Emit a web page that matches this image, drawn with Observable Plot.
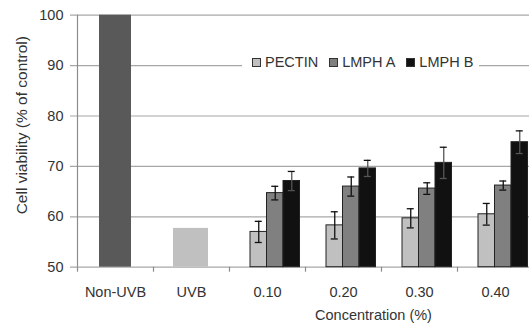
<!DOCTYPE html>
<html>
<head>
<meta charset="utf-8">
<script src="https://cdn.jsdelivr.net/npm/d3@7"></script>
<script src="https://cdn.jsdelivr.net/npm/@observablehq/plot@0.6"></script>
<style>
  body { margin: 0; background: #fff; }
  #wrap { position: relative; width: 529px; height: 328px; font-family: "Liberation Sans", Arial, sans-serif; }
  #legend { position: absolute; left: 242px; top: 54px; width: 237px; height: 16px; background: #fff;
            display: flex; align-items: center; padding-left: 10px; box-sizing: border-box;
            font-size: 14.5px; color: #333; white-space: nowrap; }
  #legend .item { display: flex; align-items: center; margin-right: 11px; }
  #legend .sw { width: 7px; height: 7px; border: 1px solid #333; margin-right: 4px; }
</style>
</head>
<body>
<div id="wrap"><div id="legend"></div></div>
<script>
// ---- data ----
const categories = ["Non-UVB", "UVB", "0.10", "0.20", "0.30", "0.40"];
const controlLabels = ["Non-UVB", "UVB"];
const controlValues = [100, 57.7];
const concentrations = ["0.10", "0.20", "0.30", "0.40"];
const seriesNames = ["PECTIN", "LMPH A", "LMPH B"];
const pectin = [57.0, 58.3, 59.7, 60.5];
const pectinErr = [2.1, 2.7, 1.9, 2.15];
const lmphA = [64.7, 66.0, 65.6, 66.2];
const lmphAErr = [1.35, 1.9, 1.15, 0.9];
const lmphB = [67.1, 69.6, 70.7, 74.8];
const lmphBErr = [1.9, 1.6, 3.1, 2.25];
const yTicks = [50, 60, 70, 80, 90, 100];

// ---- styles ----
const seriesStyle = [
  {fill: "#c0c0c0", insetLeft: 21, insetRight: 38.5, dx: -8.75},
  {fill: "#808080", insetLeft: 37.5, insetRight: 22, dx: 7.75},
  {fill: "#111111", insetLeft: 54, insetRight: 5.5, dx: 24.25}
];
const seriesData = [[pectin, pectinErr], [lmphA, lmphAErr], [lmphB, lmphBErr]];
const controlStyle = [
  {fill: "#595959", insetLeft: 22, insetRight: 22},
  {fill: "#c0c0c0", insetLeft: 20, insetRight: 21}
];

const controls = controlLabels.map((c, i) => ({cat: c, value: controlValues[i]}));
const tables = seriesData.map(([v, e]) => concentrations.map((c, i) => ({cat: c, value: v[i], err: e[i]})));

const marks = [];
marks.push(Plot.ruleY(yTicks, {stroke: "#a8a8a8", strokeWidth: 1.2, insetLeft: -7}));
marks.push(Plot.ruleX([categories[0]], {x: d => d, dx: -38, y1: 50, y2: 100, stroke: "#8c8c8c", strokeWidth: 1.2}));
marks.push(Plot.ruleX(categories, {x: d => d, dx: -38, y1: 50, y2: 50, insetBottom: -5, stroke: "#8c8c8c", strokeWidth: 1.2}));
controls.forEach((d, i) => {
  marks.push(Plot.barY([d], {x: "cat", y1: 50, y2: "value", fill: controlStyle[i].fill,
    insetLeft: controlStyle[i].insetLeft, insetRight: controlStyle[i].insetRight}));
});
tables.forEach((t, k) => {
  const s = seriesStyle[k];
  marks.push(Plot.barY(t, {x: "cat", y1: 50, y2: "value", fill: s.fill, stroke: "#222", strokeWidth: 1,
    insetLeft: s.insetLeft, insetRight: s.insetRight}));
  marks.push(Plot.ruleX(t, {x: "cat", y1: d => d.value - d.err, y2: d => d.value + d.err, dx: s.dx,
    stroke: k === 2 ? "#555" : "#111", strokeWidth: 1.3}));
  const capL = 38 + s.dx - 3.5, capR = 76 - (38 + s.dx + 3.5);
  marks.push(Plot.tickY(t, {x: "cat", y: d => d.value + d.err, insetLeft: capL, insetRight: capR, stroke: "#111", strokeWidth: 1.3}));
  marks.push(Plot.tickY(t, {x: "cat", y: d => d.value - d.err, insetLeft: capL, insetRight: capR, stroke: k === 2 ? "#555" : "#111", strokeWidth: 1.3}));
});
marks.push(Plot.text(["Cell viability (% of control)"], {frameAnchor: "left", textAnchor: "middle", dx: -55, dy: -16, rotate: -90, fontSize: 15.5, fill: "#333"}));
marks.push(Plot.text(["Concentration (%)"], {frameAnchor: "bottom", textAnchor: "middle", dx: 70, dy: 48, lineAnchor: "middle", fontSize: 14.5, fill: "#333"}));

const chart = Plot.plot({
  width: 529,
  height: 328,
  marginLeft: 77,
  marginRight: 0,
  marginTop: 14.7,
  marginBottom: 61.3,
  style: {fontFamily: "Liberation Sans, Arial, sans-serif", fontSize: "14.5px", color: "#333", background: "transparent"},
  x: {domain: categories, range: [77, 533], padding: 0, tickSize: 0, tickPadding: 20, label: null},
  y: {domain: [50, 100], ticks: yTicks, tickSize: 0, tickPadding: 14, label: null},
  marks
});
document.getElementById("wrap").prepend(chart);

const legend = document.getElementById("legend");
seriesNames.forEach((name, k) => {
  const item = document.createElement("div");
  item.className = "item";
  const sw = document.createElement("div");
  sw.className = "sw";
  sw.style.background = seriesStyle[k].fill;
  const tx = document.createElement("span");
  tx.textContent = name;
  item.appendChild(sw);
  item.appendChild(tx);
  legend.appendChild(item);
});
</script>
</body>
</html>
